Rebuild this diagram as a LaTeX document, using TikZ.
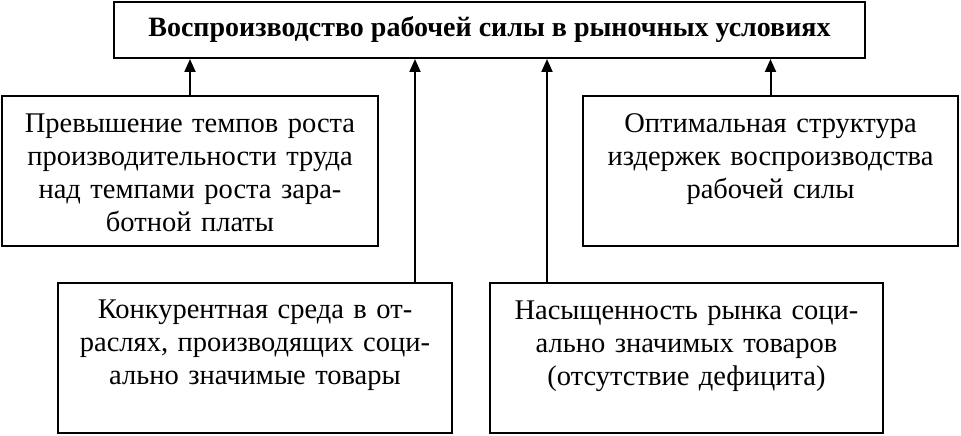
\documentclass[tikz,border=0pt]{standalone}
\usepackage{fontspec}
\setmainfont{Liberation Serif}
\usetikzlibrary{arrows.meta,positioning}

\begin{document}
\begin{tikzpicture}[
    x=1pt, y=-1pt,
    line width=2pt,
    goal/.style={rectangle, draw=black, minimum width=751pt, minimum height=56pt, inner sep=0pt, font=\fontsize{28}{32}\selectfont\bfseries},
    factor/.style={rectangle, draw=black, align=center, inner xsep=4pt, inner ysep=0pt, text height=36pt, text depth=114pt, font=\fontsize{28.5}{33}\selectfont},
    arrow/.style={-{Triangle[length=13pt,width=11pt]}}
]
\useasboundingbox (0,0) rectangle (961,436);
% Goal
\node[goal] (goal) at (489.5,30) {Воспроизводство рабочей силы в рыночных условиях};
% Upper factors
\node[factor, text width=368pt] (productivity) at (190,171) {Превышение темпов роста\\производительности труда\\над темпами роста зара-\\ботной платы};
\node[factor, text width=367pt] (costs) at (770.5,171) {Оптимальная структура\\издержек воспроизводства\\рабочей силы};
% Lower factors
\node[factor, text width=386pt] (competition) at (255,357.5) {Конкурентная среда в от-\\раслях, производящих соци-\\ально значимые товары};
\node[factor, text width=385pt] (saturation) at (686.5,358) {Насыщенность рынка соци-\\ально значимых товаров\\(отсутствие дефицита)};
% Arrows
\draw[arrow] (productivity) -- (productivity |- goal.south);
\draw[arrow] (costs) -- (costs |- goal.south);
\draw[arrow] ([xshift=160pt]competition.north) -- ([xshift=160pt]competition.north |- goal.south);
\draw[arrow] ([xshift=-139.5pt]saturation.north) -- ([xshift=-139.5pt]saturation.north |- goal.south);
\end{tikzpicture}
\end{document}
